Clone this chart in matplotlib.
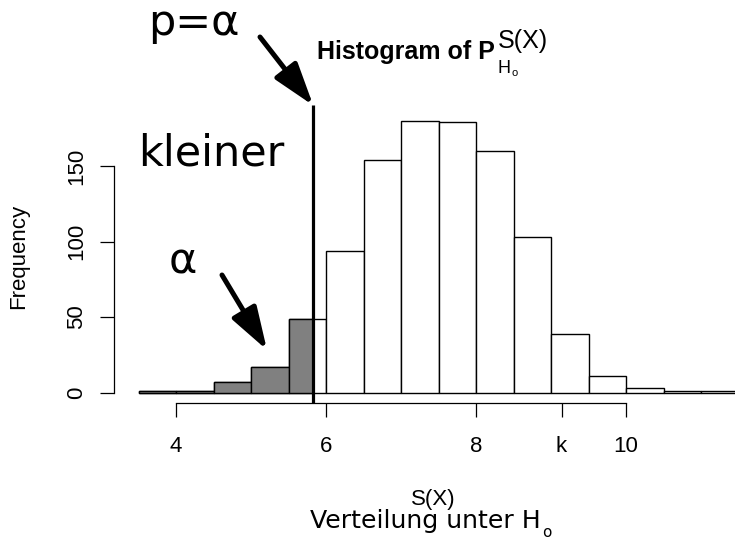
import numpy as np
import matplotlib
matplotlib.use("Agg")
import matplotlib.pyplot as plt

# ---- data ----
breaks = [3.5, 4.0, 4.5, 5.0, 5.5, 6.0, 6.5, 7.0, 7.5, 8.0, 8.5, 9.0, 9.5, 10.0, 10.5, 11.0, 11.5]
counts = [1, 1, 7, 17, 49, 94, 154, 180, 179, 160, 103, 39, 11, 3, 1, 1]
crit = 5.83
k_value = 9.14
xtick_values = [4, 6, 8, k_value, 10]
xtick_labels = ["4", "6", "8", "k", "10"]
ytick_values = [0, 50, 100, 150]
line_top = 190

W, H = 735, 540
fig = plt.figure(figsize=(W / 100, H / 100), dpi=100)

# axes placement in pixels (left spine at 113.7, bottom spine at 403)
px_left, px_right, px_top, px_bottom = 113.7, 735.0, 60.0, 403.0
ax = fig.add_axes([px_left / W, 1 - px_bottom / H, (px_right - px_left) / W, (px_bottom - px_top) / H])
x_per_unit = 75.0
y_per_unit = 1.512
x0_px, y0_px = 176.0, 392.7
ax.set_xlim(4 + (px_left - x0_px) / x_per_unit, 4 + (px_right - x0_px) / x_per_unit)
ax.set_ylim((y0_px - px_bottom) / y_per_unit, (y0_px - px_top) / y_per_unit)

lefts = np.array(breaks[:-1])
rights = np.array(breaks[1:])
cnt = np.array(counts)
ax.bar(lefts, cnt, width=rights - lefts, align="edge", color="white",
       edgecolor="black", linewidth=1.0, clip_on=False)
mask = lefts < crit
g_right = np.minimum(rights[mask], crit)
ax.bar(lefts[mask], cnt[mask], width=g_right - lefts[mask], align="edge",
       color="#808080", edgecolor="black", linewidth=1.0)

ax.plot([crit, crit], [ax.get_ylim()[0], line_top], color="black", lw=2.3,
        solid_capstyle="butt", clip_on=False)

for s in ["top", "right"]:
    ax.spines[s].set_visible(False)
ax.spines["left"].set_bounds(0, 150)
ax.spines["bottom"].set_bounds(4, 10)
ax.spines["left"].set_linewidth(0.9)
ax.spines["bottom"].set_linewidth(0.9)

ax.set_xticks(xtick_values)
ax.set_xticklabels(xtick_labels)
ax.set_yticks(ytick_values)
ax.set_yticklabels([str(v) for v in ytick_values], rotation=90, va="center")
ax.tick_params(axis="both", direction="out", length=10, width=0.9, labelsize=16)
ax.tick_params(axis="x", pad=14)
ax.tick_params(axis="y", pad=9)
for lab in ax.get_xticklabels() + ax.get_yticklabels():
    lab.set_fontfamily("Liberation Sans")

def ftext(x, y, s, **kw):
    return fig.text(x / W, 1 - y / H, s, **kw)

renderer = fig.canvas.get_renderer()

def right_px(t):
    bb = t.get_window_extent(renderer=renderer)
    return bb.x1

# title pieces
ftext(317, 59, "Histogram of P", fontsize=18, fontweight="bold",
      family="Liberation Sans", va="baseline", ha="left")
ftext(498, 48, "S(X)", fontsize=18, family="Liberation Sans", va="baseline", ha="left")
tH = ftext(497, 73, "H", fontsize=13, family="Liberation Sans", va="baseline", ha="left")
ftext(right_px(tH) + 1, 76, "o", fontsize=8, family="Liberation Sans", va="baseline", ha="left")

# axis labels
ftext(18.5, 256, "Frequency", fontsize=16, family="Liberation Sans",
      rotation=90, ha="center", va="center")
ftext(433, 500, "S(X)", fontsize=16, family="Liberation Sans", ha="center", va="center")
tV = ftext(310, 528, "Verteilung unter H", fontsize=18.2, family="DejaVu Sans",
           ha="left", va="baseline")
ftext(right_px(tV) + 1, 537, "o", fontsize=11, family="DejaVu Sans", ha="left", va="baseline")

# annotations
ftext(148, 35, "p=α", fontsize=31, family="DejaVu Sans", ha="left", va="baseline")
ftext(138, 165, "kleiner", fontsize=31, family="DejaVu Sans", ha="left", va="baseline")
ftext(183, 262, "α", fontsize=31, family="DejaVu Sans", ha="center", va="center")

def px2data(px, py):
    return (4 + (px - x0_px) / x_per_unit, (y0_px - py) / y_per_unit)

arrow_kw = dict(arrowstyle="-|>,head_length=1.3,head_width=0.42", color="black",
                lw=3.6, shrinkA=0, shrinkB=0, mutation_scale=20)
ax.annotate("", xy=(crit, line_top), xytext=px2data(260, 37),
            arrowprops=arrow_kw, annotation_clip=False)
ax.annotate("", xy=px2data(267, 350), xytext=px2data(222, 275),
            arrowprops=arrow_kw, annotation_clip=False)

fig.savefig("out.png", dpi=100)
